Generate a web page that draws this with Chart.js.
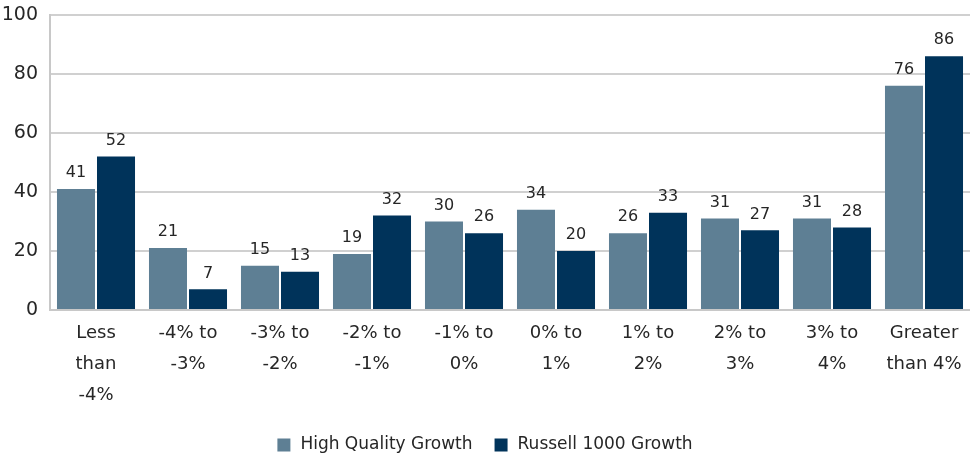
<!DOCTYPE html>
<html>
<head>
<meta charset="utf-8">
<script src="https://cdn.jsdelivr.net/npm/chart.js@4"></script>
<style>
  html, body { margin: 0; padding: 0; background: #fff; }
  #wrap { width: 970px; height: 455px; position: relative; }
</style>
</head>
<body>
<div id="wrap"><canvas id="returnsChart"></canvas></div>
<script>
const categories = [
  ['Less', 'than', '-4%'], ['-4% to', '-3%'], ['-3% to', '-2%'], ['-2% to', '-1%'],
  ['-1% to', '0%'], ['0% to', '1%'], ['1% to', '2%'], ['2% to', '3%'], ['3% to', '4%'],
  ['Greater', 'than 4%']
];
const highQuality = [41, 21, 15, 19, 30, 34, 26, 31, 31, 76];
const russellGrowth = [52, 7, 13, 32, 26, 20, 33, 27, 28, 86];
const yTicks = [0, 20, 40, 60, 80, 100];

const FONT = "'Century Gothic', 'DejaVu Sans', sans-serif";
const TEXT = '#262626';

// value labels printed above each bar
const barValues = {
  id: 'barValues',
  afterDatasetsDraw(chart) {
    const ctx = chart.ctx;
    ctx.save();
    ctx.font = '16px ' + FONT;
    ctx.fillStyle = TEXT;
    ctx.textAlign = 'center';
    ctx.textBaseline = 'bottom';
    chart.data.datasets.forEach((ds, i) => {
      chart.getDatasetMeta(i).data.forEach((bar, j) => {
        ctx.fillText(ds.data[j], bar.x, bar.y - 8);
      });
    });
    ctx.restore();
  }
};

// legend row along the bottom, centred under the canvas
const bottomLegend = {
  id: 'bottomLegend',
  afterDraw(chart) {
    const ctx = chart.ctx;
    const box = 13, textGap = 10, itemGap = 22, y = 445;
    ctx.save();
    ctx.font = '17px ' + FONT;
    ctx.textBaseline = 'middle';
    const items = chart.data.datasets.map(ds => ({
      label: ds.label, color: ds.backgroundColor, w: box + textGap + ctx.measureText(ds.label).width
    }));
    const total = items.reduce((s, it) => s + it.w, 0) + itemGap * (items.length - 1);
    let x = (chart.width - total) / 2;
    items.forEach(it => {
      ctx.fillStyle = it.color;
      ctx.fillRect(x, y - box / 2, box, box);
      ctx.fillStyle = TEXT;
      ctx.fillText(it.label, x + box + textGap, y);
      x += it.w + itemGap;
    });
    ctx.restore();
  }
};

new Chart(document.getElementById('returnsChart'), {
  type: 'bar',
  data: {
    labels: categories,
    datasets: [
      { label: 'High Quality Growth', data: highQuality, backgroundColor: '#5e7f94' },
      { label: 'Russell 1000 Growth', data: russellGrowth, backgroundColor: '#00335a' }
    ]
  },
  options: {
    responsive: true,
    maintainAspectRatio: false,
    animation: false,
    categoryPercentage: 0.87,
    barPercentage: 0.95,
    layout: { padding: { top: 15, right: 0, left: 0, bottom: 45 } },
    plugins: {
      tooltip: { enabled: false },
      legend: { display: false }
    },
    scales: {
      x: {
        grid: { display: false },
        border: { display: true, color: '#c8c8c8', width: 2 },
        ticks: {
          font: { family: FONT, size: 18, lineHeight: 1.72 },
          color: TEXT,
          maxRotation: 0,
          autoSkip: false,
          padding: 0
        },
        afterFit(scale) { scale.height = 100; }
      },
      y: {
        min: 0,
        max: 100,
        afterBuildTicks(scale) { scale.ticks = yTicks.map(v => ({ value: v })); },
        grid: { color: '#d0d0d0', lineWidth: 2, drawTicks: false },
        border: { display: true, color: '#c8c8c8', width: 2 },
        ticks: {
          font: { family: FONT, size: 19 },
          color: TEXT,
          padding: 12
        },
        afterFit(scale) {
          scale.width = 50;
          scale.paddingTop = 0;
          scale.paddingBottom = 0;
        }
      }
    }
  },
  plugins: [barValues, bottomLegend]
});
</script>
</body>
</html>
